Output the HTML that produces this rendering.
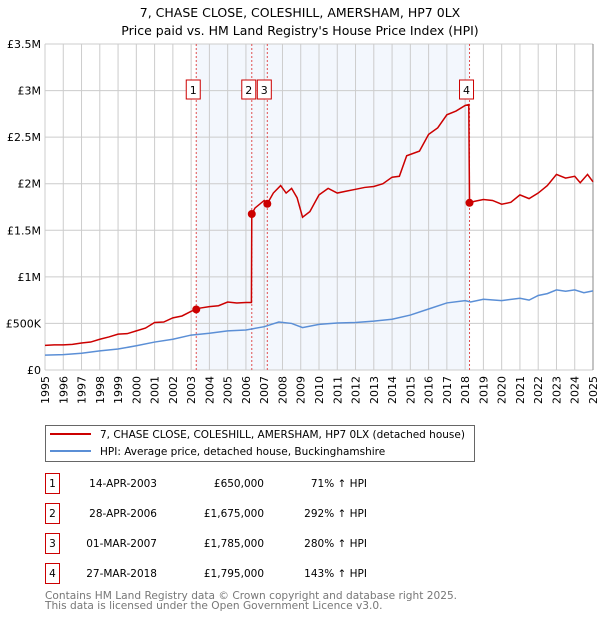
<!DOCTYPE html>
<html><head><meta charset="utf-8">
<style>
body{margin:0;background:#fff;font-family:"DejaVu Sans","Liberation Sans",sans-serif;}
svg text{font-family:"DejaVu Sans","Liberation Sans",sans-serif;}
</style></head>
<body>
<svg id="chart" width="600" height="620" xmlns="http://www.w3.org/2000/svg">
<text x="300" y="17" text-anchor="middle" font-size="12.5">7, CHASE CLOSE, COLESHILL, AMERSHAM, HP7 0LX</text>
<text x="300" y="35" text-anchor="middle" font-size="12.5">Price paid vs. HM Land Registry's House Price Index (HPI)</text>
<g id="plot"></g>
<g>
<rect x="45.5" y="425.5" width="429" height="36" fill="#fff" stroke="#666"/>
<line x1="50" y1="434" x2="91" y2="434" stroke="#cc0000" stroke-width="2"/>
<text x="100" y="438" font-size="10.5">7, CHASE CLOSE, COLESHILL, AMERSHAM, HP7 0LX (detached house)</text>
<line x1="50" y1="451" x2="91" y2="451" stroke="#5b8fd6" stroke-width="2"/>
<text x="100" y="455" font-size="10.5">HPI: Average price, detached house, Buckinghamshire</text>
</g>
<g id="table"></g>
<text x="45" y="599" font-size="10.6" fill="#777">Contains HM Land Registry data © Crown copyright and database right 2025.</text>
<text x="45" y="609" font-size="10.6" fill="#777">This data is licensed under the Open Government Licence v3.0.</text>
</svg>
<script>
const redT=[1995,1995.5,1996,1996.5,1997,1997.5,1998,1998.5,1999,1999.5,2000,2000.5,2001,2001.5,2002,2002.5,2003,2003.28,2003.5,2004,2004.5,2005,2005.5,2006,2006.3,2006.32,2006.5,2007,2007.17,2007.5,2007.9,2008.2,2008.5,2008.8,2009.1,2009.5,2010,2010.5,2011,2011.5,2012,2012.5,2013,2013.5,2014,2014.4,2014.8,2015.5,2016,2016.5,2017,2017.5,2018,2018.2,2018.24,2018.5,2019,2019.5,2020,2020.5,2021,2021.5,2022,2022.5,2023,2023.5,2024,2024.3,2024.7,2025];
const redV=[265,270,270,275,290,300,330,355,385,390,420,450,510,515,560,580,630,650,665,680,690,730,720,725,725,1675,1740,1820,1785,1900,1980,1900,1950,1850,1640,1700,1880,1950,1900,1920,1940,1960,1970,2000,2070,2080,2300,2350,2530,2600,2740,2780,2840,2850,1795,1810,1830,1820,1780,1800,1880,1840,1900,1980,2100,2060,2080,2010,2100,2020];
const hpiT=[1995,1996,1997,1998,1999,2000,2001,2002,2003,2004,2005,2006,2007,2007.8,2008.5,2009.1,2010,2011,2012,2013,2014,2015,2016,2017,2018,2018.3,2019,2020,2021,2021.5,2022,2022.5,2023,2023.5,2024,2024.5,2025];
const hpiV=[160,165,180,205,225,260,300,330,375,395,420,430,465,515,500,455,490,505,510,525,545,590,655,720,745,730,760,745,770,750,800,820,860,845,860,830,850];
const saleT=[2003.28,2006.32,2007.17,2018.24];
const saleV=[650,1675,1785,1795];
const saleLabels=["1","2","3","4"];
const saleDates=["14-APR-2003","28-APR-2006","01-MAR-2007","27-MAR-2018"];
const salePrices=["£650,000","£1,675,000","£1,785,000","£1,795,000"];
const salePct=["71% ↑ HPI","292% ↑ HPI","280% ↑ HPI","143% ↑ HPI"];
const yTicks=[0,500,1000,1500,2000,2500,3000,3500];
const yTickLabels=["£0","£500K","£1M","£1.5M","£2M","£2.5M","£3M","£3.5M"];
const years=[];for(let y=1995;y<=2025;y++)years.push(y);

const X0=45,X1=593,Y0=370,Y1=44;
const xs=t=>X0+(t-1995)/30*(X1-X0);
const ys=v=>Y0-v/3500*(Y0-Y1);
const NS="http://www.w3.org/2000/svg";
const plot=document.getElementById('plot');
function mk(tag,attrs,parent){const e=document.createElementNS(NS,tag);for(const k in attrs)e.setAttribute(k,attrs[k]);(parent||plot).appendChild(e);return e;}

const shade=mk('rect',{x:xs(saleT[0]),y:Y1,width:xs(saleT[3])-xs(saleT[0]),height:Y0-Y1,fill:'#eef3fc',opacity:0.7});


years.forEach(y=>{
 const g=mk('line',{x1:xs(y),x2:xs(y),y1:Y1,y2:Y0,stroke:'#ccc','stroke-width':1});
 
 
 const t=mk('text',{x:0,y:0,'font-size':11,'text-anchor':'end',transform:`translate(${xs(y)+4},${Y0+6}) rotate(-90)`});
 t.textContent=y;
 
 
});
yTicks.forEach((v,i)=>{
 const g=mk('line',{x1:X0,x2:X1,y1:ys(v),y2:ys(v),stroke:'#ccc','stroke-width':1});
 
 
 const t=mk('text',{x:X0-4,y:ys(v)+4,'font-size':11,'text-anchor':'end'});
 t.textContent=yTickLabels[i];
 
 
});
const border=mk('line',{x1:X1,x2:X1,y1:Y1,y2:Y0,stroke:'#888','stroke-width':1});


saleT.forEach((t,i)=>{
 const l=mk('line',{x1:xs(t),x2:xs(t),y1:Y1,y2:Y0,stroke:'#e05050','stroke-width':1,'stroke-dasharray':'2,2'});
 
 
});
const hp=mk('polyline',{points:hpiT.map((t,i)=>xs(t)+','+ys(hpiV[i])).join(' '),fill:'none',stroke:'#5b8fd6','stroke-width':1.5});


const rp=mk('polyline',{points:redT.map((t,i)=>xs(t)+','+ys(redV[i])).join(' '),fill:'none',stroke:'#cc0000','stroke-width':1.5});


saleT.forEach((t,i)=>{
 const c=mk('circle',{cx:xs(t),cy:ys(saleV[i]),r:4,fill:'#cc0000'});
 
 
 const bx=xs(t)-3;
 const r=mk('rect',{x:bx-7,y:80,width:14,height:19,fill:'#fff',stroke:'#cc0000'});
 
 
 const tx=mk('text',{x:bx,y:94,'font-size':11,'text-anchor':'middle'});
 tx.textContent=saleLabels[i];
 
 
});
const tbl=document.getElementById('table');
saleLabels.forEach((s,i)=>{
 const cy=483+i*30;
 const r=mk('rect',{x:45.5,y:cy-9.5,width:14,height:20,fill:'#fff',stroke:'#cc0000'},tbl);
 
 
 const a=mk('text',{x:52.5,y:cy+4,'font-size':10.5,'text-anchor':'middle'},tbl);a.textContent=s;
 
 
 const d=mk('text',{x:157,y:cy+4,'font-size':10.5,'text-anchor':'end'},tbl);d.textContent=saleDates[i];
 
 
 const p=mk('text',{x:264,y:cy+4,'font-size':10.5,'text-anchor':'end'},tbl);p.textContent=salePrices[i];
 
 
 const q=mk('text',{x:367,y:cy+4,'font-size':10.5,'text-anchor':'end'},tbl);q.textContent=salePct[i];
 
 
});
</script>
</body></html>
